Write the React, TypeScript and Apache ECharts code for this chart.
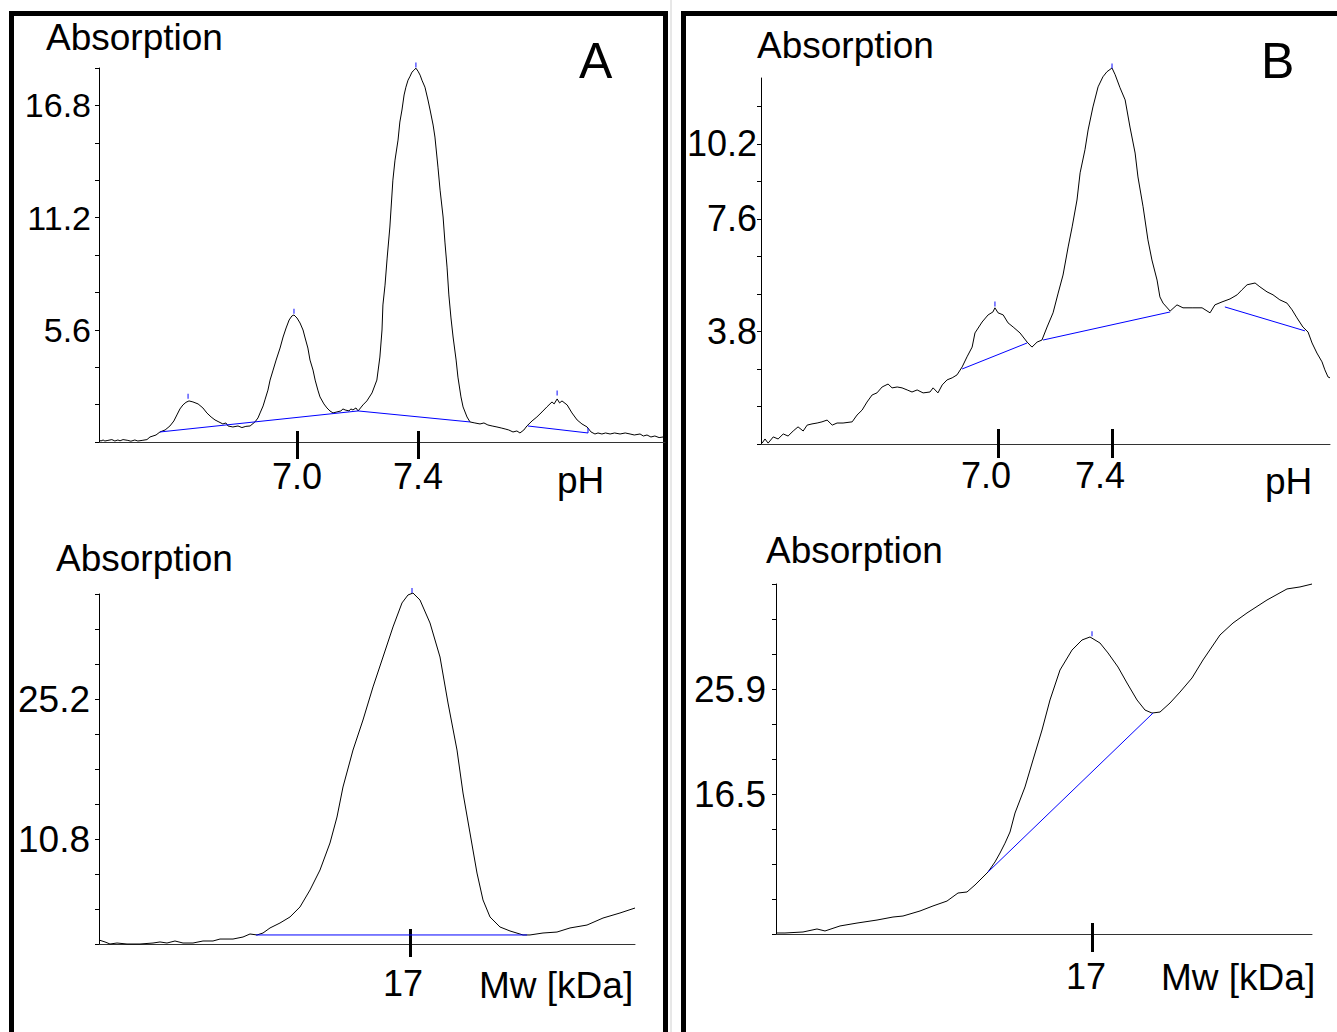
import React, { useEffect, useRef } from "react";
import * as echarts from "echarts";

const FONT = "'Liberation Sans', Arial, Helvetica, sans-serif";

// ---------------- Panel A, top: isoelectric focusing profile (pH vs absorption)
const ieCurveA: [number, number][] = [
  [6.346, 0.1], [6.352, 0.05], [6.359, 0.1], [6.365, 0.05], [6.375, 0.08], [6.388, 0.12], [6.398, 0.05],
  [6.408, 0.1], [6.415, 0.06], [6.425, 0.12], [6.441, 0.08], [6.451, 0.04], [6.464, 0.1], [6.474, 0.05],
  [6.488, 0.08], [6.504, 0.12], [6.514, 0.25], [6.524, 0.3], [6.534, 0.35], [6.547, 0.5], [6.564, 0.6],
  [6.58, 0.8], [6.593, 1.05], [6.603, 1.35], [6.613, 1.65], [6.623, 1.85], [6.633, 1.98], [6.643, 2.05],
  [6.656, 2.0], [6.673, 1.9], [6.689, 1.7], [6.702, 1.45], [6.716, 1.25], [6.729, 1.1], [6.742, 1.0],
  [6.755, 0.9], [6.765, 0.95], [6.772, 0.8], [6.788, 0.75], [6.805, 0.8], [6.818, 0.72], [6.831, 0.78],
  [6.845, 0.8], [6.861, 1.0], [6.871, 1.2], [6.878, 1.45], [6.888, 1.8], [6.894, 2.1], [6.904, 2.59],
  [6.911, 3.09], [6.921, 3.59], [6.931, 4.09], [6.944, 4.69], [6.954, 5.24], [6.964, 5.69], [6.974, 6.09],
  [6.983, 6.29], [6.99, 6.34], [7.0, 6.19], [7.01, 5.94], [7.02, 5.59], [7.026, 5.24], [7.036, 4.69],
  [7.043, 4.09], [7.053, 3.59], [7.06, 3.09], [7.069, 2.59], [7.076, 2.25], [7.089, 1.9], [7.099, 1.7],
  [7.109, 1.55], [7.119, 1.45], [7.132, 1.5], [7.145, 1.55], [7.152, 1.65], [7.159, 1.6], [7.172, 1.55],
  [7.178, 1.65], [7.185, 1.6], [7.195, 1.7], [7.202, 1.55], [7.218, 1.85], [7.231, 2.05], [7.248, 2.45],
  [7.264, 3.09], [7.274, 4.24], [7.281, 5.59], [7.284, 6.84], [7.291, 7.83], [7.298, 9.18], [7.307, 10.73],
  [7.317, 13.07], [7.324, 14.07], [7.334, 15.07], [7.34, 15.97], [7.347, 16.57], [7.354, 17.32],
  [7.36, 17.71], [7.367, 18.06], [7.374, 18.26], [7.38, 18.46], [7.387, 18.56], [7.393, 18.66],
  [7.4, 18.51], [7.407, 18.31], [7.413, 18.06], [7.423, 17.71], [7.433, 17.07], [7.44, 16.57],
  [7.45, 15.82], [7.456, 15.22], [7.466, 13.72], [7.473, 12.57], [7.483, 11.23], [7.489, 9.98],
  [7.496, 8.73], [7.502, 7.34], [7.509, 6.19], [7.516, 5.24], [7.526, 4.09], [7.532, 3.24], [7.542, 2.25],
  [7.549, 1.75], [7.562, 1.25], [7.572, 1.0], [7.588, 0.95], [7.605, 0.9], [7.618, 0.95], [7.631, 0.85],
  [7.645, 0.8], [7.661, 0.75], [7.675, 0.7], [7.688, 0.65], [7.7, 0.6], [7.714, 0.5], [7.727, 0.55],
  [7.737, 0.45], [7.75, 0.6], [7.76, 0.8], [7.777, 1.05], [7.793, 1.25], [7.81, 1.5], [7.826, 1.75],
  [7.843, 2.0], [7.85, 1.9], [7.86, 2.15], [7.868, 1.95], [7.876, 2.05], [7.893, 1.85], [7.909, 1.45],
  [7.926, 1.1], [7.942, 0.9], [7.959, 0.75], [7.972, 0.5], [7.985, 0.4], [7.995, 0.45], [8.008, 0.4],
  [8.02, 0.45], [8.035, 0.4], [8.05, 0.45], [8.068, 0.4], [8.085, 0.45], [8.101, 0.4], [8.115, 0.35],
  [8.134, 0.4], [8.145, 0.3], [8.157, 0.35], [8.17, 0.25], [8.183, 0.3], [8.197, 0.22], [8.21, 0.25],
];
const ieBaselinesA: [number, number][][] = [
  [[6.547, 0.5], [7.202, 1.55]],
  [[7.202, 1.55], [7.572, 1.0]],
  [[7.763, 0.8], [7.962, 0.45], [7.962, 0.7]],
];
const iePeaksA: [number, number][] = [[6.64, 2.28], [6.99, 6.52], [7.393, 18.82], [7.86, 2.45]];

// ---------------- Panel B, top
const ieCurveB: [number, number][] = [
  [6.172, 0.03], [6.182, 0.17], [6.193, 0.03], [6.211, 0.24], [6.228, 0.17], [6.246, 0.34], [6.263, 0.27],
  [6.281, 0.44], [6.298, 0.58], [6.316, 0.44], [6.33, 0.64], [6.347, 0.68], [6.365, 0.71], [6.382, 0.75],
  [6.4, 0.81], [6.418, 0.64], [6.435, 0.71], [6.456, 0.71], [6.488, 0.75], [6.505, 0.98], [6.523, 1.15],
  [6.54, 1.42], [6.558, 1.66], [6.575, 1.73], [6.593, 1.93], [6.614, 2.03], [6.628, 1.9], [6.646, 1.93],
  [6.663, 1.9], [6.681, 1.83], [6.698, 1.76], [6.716, 1.83], [6.737, 1.73], [6.761, 1.76], [6.772, 1.9],
  [6.789, 1.73], [6.804, 2.0], [6.821, 2.17], [6.839, 2.24], [6.856, 2.34], [6.874, 2.61], [6.891, 2.95],
  [6.909, 3.28], [6.919, 3.76], [6.944, 4.13], [6.965, 4.37], [6.982, 4.47], [6.989, 4.61], [7.0, 4.44],
  [7.018, 4.37], [7.035, 4.1], [7.053, 3.96], [7.077, 3.76], [7.102, 3.45], [7.119, 3.28], [7.137, 3.45],
  [7.154, 3.52], [7.172, 3.96], [7.193, 4.44], [7.211, 5.11], [7.228, 5.72], [7.246, 6.67], [7.26, 7.35],
  [7.277, 8.26], [7.288, 9.18], [7.305, 9.96], [7.316, 10.63], [7.333, 11.41], [7.351, 12.09],
  [7.368, 12.43], [7.382, 12.6], [7.4, 12.73], [7.411, 12.5], [7.428, 12.06], [7.446, 11.65],
  [7.463, 10.73], [7.481, 9.85], [7.491, 9.04], [7.509, 8.03], [7.526, 6.91], [7.54, 6.23], [7.558, 5.55],
  [7.568, 4.98], [7.579, 4.77], [7.604, 4.5], [7.628, 4.71], [7.649, 4.61], [7.681, 4.61], [7.716, 4.61],
  [7.744, 4.44], [7.761, 4.71], [7.786, 4.81], [7.814, 4.91], [7.839, 5.05], [7.856, 5.22], [7.874, 5.39],
  [7.902, 5.45], [7.919, 5.32], [7.944, 5.15], [7.965, 5.05], [7.989, 4.88], [8.014, 4.77], [8.032, 4.54],
  [8.049, 4.27], [8.07, 3.96], [8.088, 3.79], [8.102, 3.42], [8.119, 3.08], [8.137, 2.78], [8.147, 2.51],
  [8.158, 2.27], [8.165, 2.24],
];
const ieBaselinesB: [number, number][][] = [
  [[6.874, 2.54], [7.102, 3.42]],
  [[7.158, 3.52], [7.604, 4.47]],
  [[7.796, 4.64], [8.077, 3.83]],
];
const iePeaksB: [number, number][] = [[6.989, 4.74], [7.4, 12.8]];

// ---------------- Panel A, bottom: size exclusion profile (Mw vs absorption)
const secCurveA: [number, number][] = [
  [0, 0.41], [0.328, 0.21], [0.601, 0], [0.984, 0.1], [1.531, 0], [2.241, 0], [2.952, 0.1], [3.334, 0.21],
  [3.717, 0.1], [4.154, 0.31], [4.592, 0.1], [5.138, 0.1], [5.685, 0.31], [6.232, 0.31], [6.614, 0.51],
  [7.325, 0.51], [7.872, 0.72], [8.254, 1.03], [8.637, 0.93], [8.965, 1.13], [9.348, 1.65], [9.894, 2.16],
  [10.441, 2.78], [10.987, 3.81], [11.534, 5.55], [12.081, 7.61], [12.627, 10.39], [13.01, 13.06],
  [13.338, 16.15], [13.885, 19.95], [14.431, 23.04], [14.978, 26.44], [15.525, 29.52], [16.071, 32.61],
  [16.563, 35.08], [16.891, 35.9], [17.164, 36.1], [17.547, 35.38], [18.094, 33.02], [18.641, 29.52],
  [19.078, 24.79], [19.57, 19.95], [19.898, 15.53], [20.28, 11.42], [20.663, 7.3], [20.991, 4.53],
  [21.374, 2.78], [21.92, 1.75], [22.467, 1.34], [23.178, 0.93], [23.56, 0.93], [24.271, 1.13],
  [25.036, 1.23], [25.747, 1.65], [26.676, 1.95], [27.551, 2.67], [28.48, 3.19], [29.3, 3.7],
];
const secBaselinesA: [number, number][][] = [[[8.58, 0.93], [23.4, 0.93]]];
const secPeaksA: [number, number][] = [[17.11, 36.35]];

// ---------------- Panel B, bottom
const secCurveB: [number, number][] = [
  [0, 4.06], [0.484, 4.06], [1.453, 4.15], [2.206, 4.42], [2.636, 4.24], [3.443, 4.69], [4.358, 4.95],
  [5.434, 5.22], [6.294, 5.49], [6.832, 5.58], [7.747, 6.03], [8.446, 6.48], [9.199, 6.92], [9.791, 7.64],
  [10.275, 7.73], [10.706, 8.36], [11.082, 8.98], [11.405, 9.52], [11.782, 10.42], [12.051, 11.22],
  [12.32, 12.1], [12.589, 13.1], [12.858, 14.8], [13.395, 17.13], [13.826, 19.55], [14.31, 22.23],
  [14.74, 24.92], [15.278, 27.6], [15.924, 29.39], [16.462, 30.29], [16.892, 30.56], [17.43, 30.02],
  [17.861, 29.13], [18.399, 27.87], [18.883, 26.44], [19.421, 24.92], [19.851, 24.02], [20.228, 23.75],
  [20.658, 23.84], [21.196, 24.65], [21.734, 25.63], [22.38, 26.89], [22.971, 28.5], [23.886, 30.74],
  [24.585, 31.81], [25.338, 32.71], [26.414, 33.87], [27.49, 34.86], [28.189, 35.04], [28.835, 35.3],
];
const secBaselinesB: [number, number][][] = [[[11.405, 9.52], [20.282, 23.75]]];
const secPeaksB: [number, number][] = [[17.0, 30.85]];

// ---------------- ticks & labels
const phTickValues = [7.0, 7.4];
const mwTickValues = [17];
const yTicksIeA = [0, 1.8667, 3.7333, 5.6, 7.4667, 9.3333, 11.2, 13.0667, 14.9333, 16.8, 18.6667];
const yLabelsIeA = [5.6, 11.2, 16.8];
const yTicksIeB = [0, 1.27, 2.54, 3.81, 5.08, 6.35, 7.62, 8.89, 10.16, 11.43];
const yLabelsIeB = [3.81, 7.62, 10.16];
const yTicksSecA = [0, 3.6, 7.2, 10.8, 14.4, 18, 21.6, 25.2, 28.8, 32.4, 36];
const yLabelsSecA = [10.8, 25.2];
const yTicksSecB = [3.97, 7.103, 10.237, 13.37, 16.503, 19.637, 22.77, 25.903, 29.037, 32.17, 35.303];
const yLabelsSecB = [16.503, 25.903];

type Cfg = {
  box: [number, number, number, number];
  xRange: [number, number];
  yRange: [number, number];
  xTicks: number[];
  xFmt: (v: number) => string;
  yTicks: number[];
  yLabels: number[];
  curve: [number, number][];
  baselines: [number, number][][];
  peaks: [number, number][];
  tickUp: number;
  tickDown: number;
  xLabelMargin: number;
  xShift: number;
  yLabelMargin: number;
  yLabelSize: number;
};

const charts: Cfg[] = [
  {
    box: [99, 68, 566, 374], xRange: [6.3455, 8.2165], yRange: [0, 18.667],
    xTicks: phTickValues, xFmt: (v) => v.toFixed(1), yTicks: yTicksIeA, yLabels: yLabelsIeA,
    curve: ieCurveA, baselines: ieBaselinesA, peaks: iePeaksA,
    tickUp: 11, tickDown: 17, xLabelMargin: 16, xShift: 0, yLabelMargin: 8, yLabelSize: 34,
  },
  {
    box: [761, 78, 569, 366], xRange: [6.168, 8.165], yRange: [0, 12.39],
    xTicks: phTickValues, xFmt: (v) => v.toFixed(1), yTicks: yTicksIeB, yLabels: yLabelsIeB,
    curve: ieCurveB, baselines: ieBaselinesB, peaks: iePeaksB,
    tickUp: 15, tickDown: 14, xLabelMargin: 13, xShift: 12, yLabelMargin: 4, yLabelSize: 36,
  },
  {
    box: [99, 594, 536, 350], xRange: [0, 29.3], yRange: [0, 36],
    xTicks: mwTickValues, xFmt: (v) => String(Math.round(v)), yTicks: yTicksSecA, yLabels: yLabelsSecA,
    curve: secCurveA, baselines: secBaselinesA, peaks: secPeaksA,
    tickUp: 15, tickDown: 13, xLabelMargin: 21, xShift: 7, yLabelMargin: 9, yLabelSize: 37,
  },
  {
    box: [776, 584, 536, 350], xRange: [0, 28.835], yRange: [3.97, 35.303],
    xTicks: mwTickValues, xFmt: (v) => String(Math.round(v)), yTicks: yTicksSecB, yLabels: yLabelsSecB,
    curve: secCurveB, baselines: secBaselinesB, peaks: secPeaksB,
    tickUp: 11, tickDown: 18, xLabelMargin: 24, xShift: 6, yLabelMargin: 10, yLabelSize: 37,
  },
];

const texts: { t: string; x: number; y: number; size: number }[] = [
  { t: "Absorption", x: 46, y: 37.5, size: 37 },
  { t: "Absorption", x: 757, y: 45.5, size: 37 },
  { t: "Absorption", x: 56, y: 558, size: 37 },
  { t: "Absorption", x: 766, y: 550, size: 37 },
  { t: "A", x: 579, y: 61, size: 50 },
  { t: "B", x: 1261, y: 61, size: 50 },
  { t: "pH", x: 557, y: 480, size: 37 },
  { t: "pH", x: 1265, y: 481, size: 37 },
  { t: "Mw [kDa]", x: 479, y: 985, size: 37 },
  { t: "Mw [kDa]", x: 1161, y: 977, size: 37 },
];

function buildOption() {
  const grid: any[] = [];
  const xAxis: any[] = [];
  const yAxis: any[] = [];
  const series: any[] = [];
  charts.forEach((c, i) => {
    grid.push({
      left: c.box[0], top: c.box[1], width: c.box[2], height: c.box[3],
      containLabel: false, outerBoundsMode: "none",
    });
    xAxis.push({
      type: "value", gridIndex: i, position: "bottom", min: c.xRange[0], max: c.xRange[1],
      axisLine: { show: true, onZero: false, lineStyle: { color: "#333", width: 1 } },
      axisTick: { show: true, inside: false, length: c.tickDown, customValues: c.xTicks, lineStyle: { color: "#000", width: 3 } },
      axisLabel: {
        show: true, customValues: c.xTicks, formatter: (v: number) => c.xFmt(v), margin: c.xLabelMargin,
        fontSize: 36, fontFamily: FONT, color: "#000", padding: [0, c.xShift * 2, 0, 0],
      },
      splitLine: { show: false },
    });
    xAxis.push({
      type: "value", gridIndex: i, position: "bottom", min: c.xRange[0], max: c.xRange[1],
      axisLine: { show: false, onZero: false },
      axisTick: { show: true, inside: true, length: c.tickUp, customValues: c.xTicks, lineStyle: { color: "#000", width: 3 } },
      axisLabel: { show: false },
      splitLine: { show: false },
    });
    yAxis.push({
      type: "value", gridIndex: i, position: "left", min: c.yRange[0], max: c.yRange[1],
      axisLine: { show: true, onZero: false, lineStyle: { color: "#000", width: 1 } },
      axisTick: { show: true, inside: false, length: 4, customValues: c.yTicks, lineStyle: { color: "#000", width: 1 } },
      axisLabel: {
        show: true, customValues: c.yLabels, formatter: (v: number) => v.toFixed(1), margin: c.yLabelMargin,
        fontSize: c.yLabelSize, fontFamily: FONT, color: "#000",
      },
      splitLine: { show: false },
    });
    series.push({
      type: "line", xAxisIndex: 2 * i, yAxisIndex: i, data: c.curve, symbol: "none", showSymbol: false,
      lineStyle: { color: "#000", width: 1 }, clip: false, silent: true, z: 3,
    });
    c.baselines.forEach((seg) => {
      series.push({
        type: "line", xAxisIndex: 2 * i, yAxisIndex: i, data: seg, symbol: "none", showSymbol: false,
        lineStyle: { color: "#0000ff", width: 1 }, clip: false, silent: true, z: 4,
      });
    });
    series.push({
      type: "scatter", xAxisIndex: 2 * i, yAxisIndex: i, data: c.peaks, symbol: "rect", symbolSize: [1.5, 5],
      itemStyle: { color: "#3333ff" }, clip: false, silent: true, z: 4,
    });
  });

  const graphic: any[] = [
    { type: "line", shape: { x1: 671, y1: 0, x2: 671, y2: 1032 }, style: { stroke: "#d0d0d0", lineWidth: 1 } },
    { type: "rect", shape: { x: 11.5, y: 13.5, width: 654, height: 1040 }, style: { fill: "none", stroke: "#000", lineWidth: 5 } },
    { type: "rect", shape: { x: 683.5, y: 13.5, width: 700, height: 1040 }, style: { fill: "none", stroke: "#000", lineWidth: 5 } },
    ...texts.map((t) => ({
      type: "text", x: t.x, y: t.y,
      style: { text: t.t, fontSize: t.size, fontFamily: FONT, fill: "#000", align: "left", verticalAlign: "middle" },
    })),
  ];

  return {
    animation: false,
    backgroundColor: "#fff",
    tooltip: { show: false },
    grid, xAxis, yAxis, series, graphic,
  };
}

export default function App() {
  const ref = useRef<HTMLDivElement>(null);
  useEffect(() => {
    document.body.style.margin = "0";
    if (!ref.current) return;
    const chart = echarts.init(ref.current, undefined, { renderer: "svg" });
    chart.setOption(buildOption() as any);
    return () => chart.dispose();
  }, []);
  return (
    <div style={{ position: "fixed", left: 0, top: 0, width: 1337, height: 1032, overflow: "hidden", background: "#fff" }}>
      <div ref={ref} style={{ width: 1337, height: 1032 }} />
    </div>
  );
}
